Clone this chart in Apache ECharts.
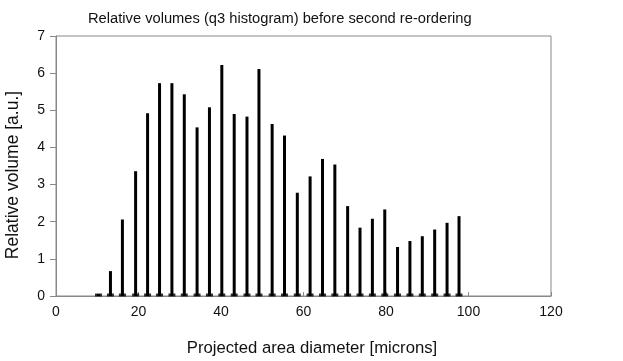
<!DOCTYPE html>
<html><head><meta charset="utf-8">
<script src="https://cdn.jsdelivr.net/npm/echarts@6/dist/echarts.min.js"></script>
<style>html,body{margin:0;padding:0;background:#fff}#c{width:623px;height:361px}</style>
</head><body><div id="c"></div>
<script>
const diameters = [10.3, 13.2, 16.1, 19.3, 22.2, 25.1, 28.1, 31.1, 34.2, 37.2, 40.2, 43.2, 46.3, 49.2, 52.4, 55.4, 58.5, 61.6, 64.6, 67.6, 70.7, 73.7, 76.7, 79.7, 82.8, 85.8, 88.8, 91.8, 94.8, 97.7];
const volumes = [0.05, 0.67, 2.06, 3.36, 4.92, 5.73, 5.73, 5.43, 4.54, 5.08, 6.22, 4.90, 4.83, 6.11, 4.63, 4.32, 2.78, 3.22, 3.69, 3.54, 2.42, 1.84, 2.08, 2.33, 1.32, 1.48, 1.61, 1.79, 1.97, 2.15];
const xTicks = [0, 20, 40, 60, 80, 100, 120];
const yTicks = [0, 1, 2, 3, 4, 5, 6, 7];

const stems = diameters.map((d, i) => [d, volumes[i]]);
const bases = diameters.map(d => [d, 0]);
const font = 'Liberation Sans, Arial, sans-serif';
const chart = echarts.init(document.getElementById('c'));
chart.setOption({
  animation: false,
  title: {
    text: 'Relative volumes (q3 histogram) before second re-ordering',
    left: 83, top: 6,
    textStyle: {fontFamily: font, fontSize: 14.7, fontWeight: 'normal', color: '#111'}
  },
  grid: {left: 56, right: 72, top: 36, bottom: 65, show: true, borderColor: '#888', borderWidth: 1,
         containLabel: false, outerBoundsMode: 'none'},
  xAxis: {
    type: 'value', min: xTicks[0], max: xTicks[xTicks.length - 1], interval: 20,
    name: 'Projected area diameter [microns]', nameLocation: 'middle', nameGap: 44,
    nameTextStyle: {fontFamily: font, fontSize: 16.7, color: '#111', padding: [0, 0, 0, 17]},
    axisLine: {lineStyle: {color: '#888'}},
    axisTick: {inside: true, length: 4, lineStyle: {color: '#888'}},
    axisLabel: {fontFamily: font, fontSize: 14, color: '#111', margin: 9},
    splitLine: {show: false}
  },
  yAxis: {
    type: 'value', min: yTicks[0], max: yTicks[yTicks.length - 1], interval: 1,
    name: 'Relative volume [a.u.]', nameLocation: 'middle', nameGap: 34,
    nameTextStyle: {fontFamily: font, fontSize: 17.5, color: '#111', padding: [0, 18, 0, 0]},
    axisLine: {show: true, lineStyle: {color: '#888'}},
    axisTick: {show: true, length: 6, lineStyle: {color: '#888'}},
    axisLabel: {fontFamily: font, fontSize: 14, color: '#111', margin: 11},
    splitLine: {show: false}
  },
  series: [
    {type: 'bar', data: stems, barWidth: 3, itemStyle: {color: '#000'}, silent: true},
    {type: 'scatter', data: bases, symbol: 'rect', symbolSize: [7, 3], symbolOffset: [0, -1], itemStyle: {color: '#000'}, silent: true}
  ]
});
</script></body></html>
